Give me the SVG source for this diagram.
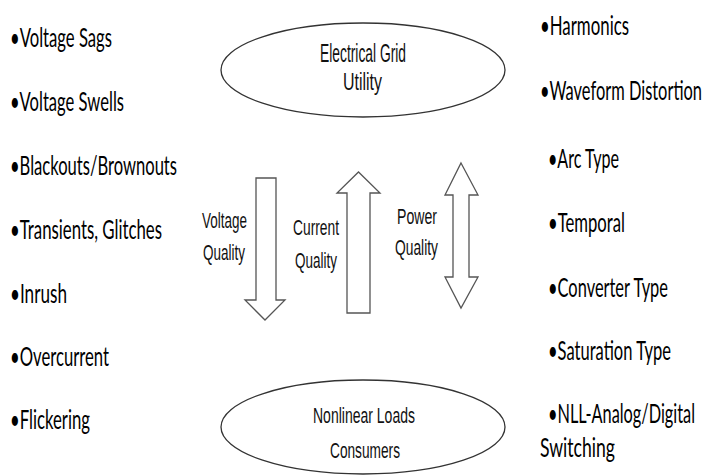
<svg xmlns="http://www.w3.org/2000/svg" width="705" height="475" viewBox="0 0 705 475">
<style>
.bg{fill:#ffffff}
.ell{fill:#ffffff;stroke:#333333;stroke-width:1.3}
.arr{fill:#ffffff;stroke:#555555;stroke-width:1.3;stroke-linejoin:miter}
.lbl{font-family:"Liberation Sans",Arial,sans-serif;fill:#111111}
.lst{font-family:Lato,"Open Sans",sans-serif;font-size:14.3px;fill:#000000}
</style>
<rect class="bg" x="0" y="0" width="705" height="475"/>
<g id="grid">
<ellipse class="ell" cx="363" cy="70" rx="142" ry="47"/>
<text class="lbl" transform="translate(320,61.5) scale(1,1.85)" font-size="13.5" textLength="86" lengthAdjust="spacingAndGlyphs">Electrical Grid</text>
<text class="lbl" transform="translate(343,90) scale(1,1.85)" font-size="13" textLength="39" lengthAdjust="spacingAndGlyphs">Utility</text>
</g>
<g id="loads">
<ellipse class="ell" cx="363" cy="427" rx="142" ry="47"/>
<text class="lbl" transform="translate(313,423) scale(1,1.7)" font-size="12.5" textLength="102" lengthAdjust="spacingAndGlyphs">Nonlinear Loads</text>
<text class="lbl" transform="translate(330,458) scale(1,1.7)" font-size="12.5" textLength="70" lengthAdjust="spacingAndGlyphs">Consumers</text>
</g>
<g id="connectors">
<polygon id="voltage-arrow" class="arr" points="256,178 276,178 276,300 285,300 265,320 245,300 256,300"/>
<polygon id="current-arrow" class="arr" points="347,313 370,313 370,193 380,193 358.5,172 337,193 347,193"/>
<polygon id="power-arrow" class="arr" points="461,163 478,195 469,195 469,277 478,277 461,308 445,277 453,277 453,195 445,195"/>
</g>
<g id="voltage-quality">
<text class="lbl" transform="translate(202,228) scale(1,1.8)" font-size="12" textLength="45" lengthAdjust="spacingAndGlyphs">Voltage</text>
<text class="lbl" transform="translate(203,260) scale(1,1.8)" font-size="12" textLength="42" lengthAdjust="spacingAndGlyphs">Quality</text>
</g>
<g id="current-quality">
<text class="lbl" transform="translate(293,235) scale(1,1.8)" font-size="12" textLength="46" lengthAdjust="spacingAndGlyphs">Current</text>
<text class="lbl" transform="translate(295,268) scale(1,1.8)" font-size="12" textLength="42" lengthAdjust="spacingAndGlyphs">Quality</text>
</g>
<g id="power-quality">
<text class="lbl" transform="translate(397,224) scale(1,1.8)" font-size="12" textLength="40" lengthAdjust="spacingAndGlyphs">Power</text>
<text class="lbl" transform="translate(395,255) scale(1,1.8)" font-size="12" textLength="43" lengthAdjust="spacingAndGlyphs">Quality</text>
</g>
<g id="voltage-issues">
<text class="lst" transform="translate(10,47) scale(1,1.85)" textLength="102" lengthAdjust="spacingAndGlyphs">•Voltage Sags</text>
<text class="lst" transform="translate(10,111) scale(1,1.85)" textLength="114" lengthAdjust="spacingAndGlyphs">•Voltage Swells</text>
<text class="lst" transform="translate(10,175) scale(1,1.85)" textLength="167" lengthAdjust="spacingAndGlyphs">•Blackouts/Brownouts</text>
<text class="lst" transform="translate(10,239) scale(1,1.85)" textLength="152" lengthAdjust="spacingAndGlyphs">•Transients, Glitches</text>
<text class="lst" transform="translate(10,303) scale(1,1.85)" textLength="57" lengthAdjust="spacingAndGlyphs">•Inrush</text>
<text class="lst" transform="translate(10,366) scale(1,1.85)" textLength="99" lengthAdjust="spacingAndGlyphs">•Overcurrent</text>
<text class="lst" transform="translate(10,429) scale(1,1.85)" textLength="80" lengthAdjust="spacingAndGlyphs">•Flickering</text>
</g>
<g id="power-issues">
<text class="lst" transform="translate(540,35) scale(1,1.85)" textLength="89" lengthAdjust="spacingAndGlyphs">•Harmonics</text>
<text class="lst" transform="translate(540,100) scale(1,1.85)" textLength="162" lengthAdjust="spacingAndGlyphs">•Waveform Distortion</text>
<text class="lst" transform="translate(548,168) scale(1,1.85)" textLength="71" lengthAdjust="spacingAndGlyphs">•Arc Type</text>
<text class="lst" transform="translate(548,232) scale(1,1.85)" textLength="77" lengthAdjust="spacingAndGlyphs">•Temporal</text>
<text class="lst" transform="translate(548,297) scale(1,1.85)" textLength="120" lengthAdjust="spacingAndGlyphs">•Converter Type</text>
<text class="lst" transform="translate(548,360) scale(1,1.85)" textLength="123" lengthAdjust="spacingAndGlyphs">•Saturation Type</text>
<text class="lst" transform="translate(548,423) scale(1,1.85)" textLength="147" lengthAdjust="spacingAndGlyphs">•NLL-Analog/Digital</text>
<text class="lst" transform="translate(540,457) scale(1,1.85)" textLength="75" lengthAdjust="spacingAndGlyphs">Switching</text>
</g>
</svg>
